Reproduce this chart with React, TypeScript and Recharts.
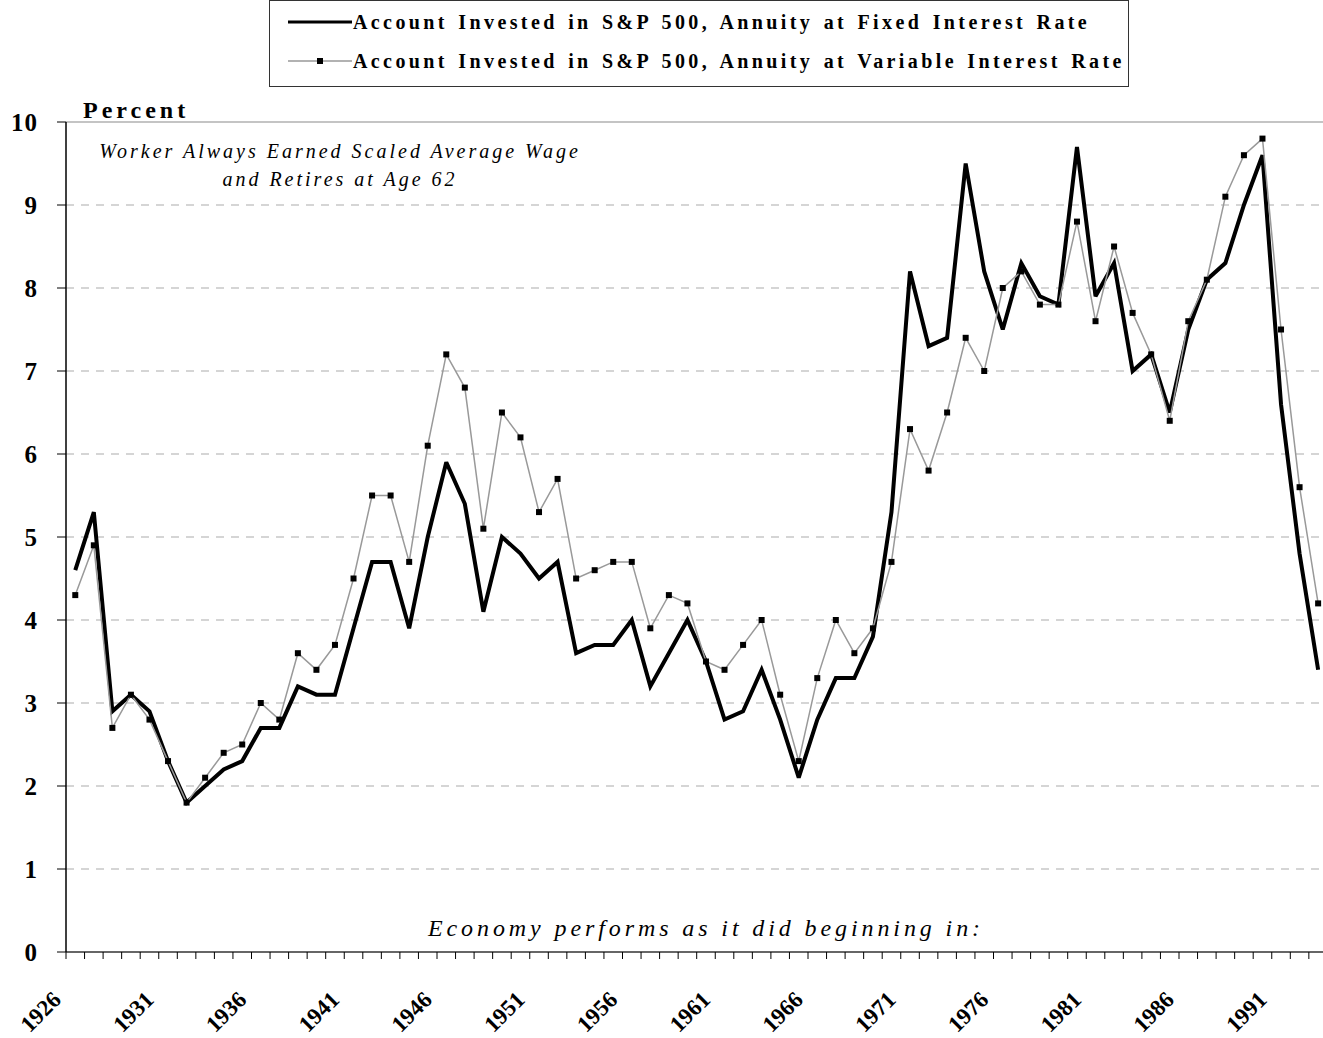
import React from 'react';
import {
  LineChart,
  Line,
  XAxis,
  YAxis,
  CartesianGrid,
  ReferenceLine,
  Legend,
} from 'recharts';

// Year the economy "begins" for each simulated worker
const years = [
  1926, 1927, 1928, 1929, 1930, 1931, 1932, 1933, 1934, 1935,
  1936, 1937, 1938, 1939, 1940, 1941, 1942, 1943, 1944, 1945,
  1946, 1947, 1948, 1949, 1950, 1951, 1952, 1953, 1954, 1955,
  1956, 1957, 1958, 1959, 1960, 1961, 1962, 1963, 1964, 1965,
  1966, 1967, 1968, 1969, 1970, 1971, 1972, 1973, 1974, 1975,
  1976, 1977, 1978, 1979, 1980, 1981, 1982, 1983, 1984, 1985,
  1986, 1987, 1988, 1989, 1990, 1991, 1992, 1993,
];

// Account invested in S&P 500, annuity at fixed interest rate (percent)
const fixedRate = [
  4.6, 5.3, 2.9, 3.1, 2.9, 2.3, 1.8, 2.0, 2.2, 2.3,
  2.7, 2.7, 3.2, 3.1, 3.1, 3.9, 4.7, 4.7, 3.9, 5.0,
  5.9, 5.4, 4.1, 5.0, 4.8, 4.5, 4.7, 3.6, 3.7, 3.7,
  4.0, 3.2, 3.6, 4.0, 3.5, 2.8, 2.9, 3.4, 2.8, 2.1,
  2.8, 3.3, 3.3, 3.8, 5.3, 8.2, 7.3, 7.4, 9.5, 8.2,
  7.5, 8.3, 7.9, 7.8, 9.7, 7.9, 8.3, 7.0, 7.2, 6.5,
  7.5, 8.1, 8.3, 9.0, 9.6, 6.6, 4.8, 3.4,
];

// Account invested in S&P 500, annuity at variable interest rate (percent)
const variableRate = [
  4.3, 4.9, 2.7, 3.1, 2.8, 2.3, 1.8, 2.1, 2.4, 2.5,
  3.0, 2.8, 3.6, 3.4, 3.7, 4.5, 5.5, 5.5, 4.7, 6.1,
  7.2, 6.8, 5.1, 6.5, 6.2, 5.3, 5.7, 4.5, 4.6, 4.7,
  4.7, 3.9, 4.3, 4.2, 3.5, 3.4, 3.7, 4.0, 3.1, 2.3,
  3.3, 4.0, 3.6, 3.9, 4.7, 6.3, 5.8, 6.5, 7.4, 7.0,
  8.0, 8.2, 7.8, 7.8, 8.8, 7.6, 8.5, 7.7, 7.2, 6.4,
  7.6, 8.1, 9.1, 9.6, 9.8, 7.5, 5.6, 4.2,
];

const yTicks = [0, 1, 2, 3, 4, 5, 6, 7, 8, 9, 10];

const seriesNames = [
  'Account Invested in S&P 500, Annuity at Fixed Interest Rate',
  'Account Invested in S&P 500, Annuity at Variable Interest Rate',
];

const data = years.map((year, i) => ({
  year,
  fixed: fixedRate[i],
  variable: variableRate[i],
}));

const FONT = '"Liberation Serif", "Times New Roman", Times, serif';

const CHART_W = 1340;
const CHART_H = 1038;
const Y_AXIS_W = 66;
const RIGHT_MARGIN = 12.6;
const BAND = (CHART_W - Y_AXIS_W - RIGHT_MARGIN) / years.length;

const YearTick = (props: any) => {
  const { x, y, payload, index } = props;
  const half = payload && typeof payload.offset === 'number' && payload.offset > 0 ? payload.offset : BAND / 2;
  const edge = x - half;
  const lx = x - 13;
  const ly = y + 42;
  return (
    <g>
      <line x1={edge} y1={y - 7} x2={edge} y2={y} stroke="#000" strokeWidth={1} />
      {index % 5 === 0 && (
        <text
          x={lx}
          y={ly}
          transform={`rotate(-45, ${lx}, ${ly})`}
          textAnchor="end"
          fontFamily={FONT}
          fontWeight="bold"
          fontSize={23}
          fill="#000"
        >
          {payload.value}
        </text>
      )}
    </g>
  );
};

const SquareDot = (props: any) => {
  const { cx, cy, index } = props;
  if (cx == null || cy == null) return <g key={index} />;
  return <rect key={index} x={cx - 3} y={cy - 3} width={6} height={6} fill="#000" />;
};

const LegendBox = () => (
  <div
    style={{
      position: 'relative',
      width: 860,
      height: 87,
      boxSizing: 'border-box',
      border: '1px solid #333',
      background: '#fff',
      fontFamily: FONT,
      fontWeight: 'bold',
      fontSize: 20,
      letterSpacing: 3.4,
      wordSpacing: 2,
      color: '#000',
    }}
  >
    {seriesNames.map((name, i) => (
      <div
        key={name}
        style={{
          position: 'absolute',
          left: 18,
          top: 10 + i * 39,
          height: 22,
          display: 'flex',
          alignItems: 'center',
          whiteSpace: 'nowrap',
        }}
      >
        <svg width={64} height={12} style={{ marginRight: 1 }}>
          {i === 0 ? (
            <line x1={0} y1={6} x2={64} y2={6} stroke="#000" strokeWidth={3} />
          ) : (
            <>
              <line x1={0} y1={6} x2={64} y2={6} stroke="#999" strokeWidth={1.5} />
              <rect x={29} y={3} width={6} height={6} fill="#000" />
            </>
          )}
        </svg>
        <span>{name}</span>
      </div>
    ))}
  </div>
);

const overlayText: React.CSSProperties = {
  position: 'absolute',
  fontFamily: FONT,
  whiteSpace: 'nowrap',
  lineHeight: 1,
  color: '#000',
};

export default function App() {
  return (
    <div
      style={{
        position: 'absolute',
        left: 0,
        top: 0,
        width: 1323,
        height: 1038,
        overflow: 'hidden',
        background: '#fff',
      }}
    >
      <LineChart
        width={CHART_W}
        height={CHART_H}
        data={data}
        margin={{ top: 122, right: RIGHT_MARGIN, left: 0, bottom: 0 }}
      >
        <CartesianGrid
          vertical={false}
          stroke="#c8c8c8"
          strokeWidth={1.5}
          strokeDasharray="8 7"
        />
        <ReferenceLine y={10} stroke="#c4c4c4" strokeWidth={2} />
        <XAxis
          dataKey="year"
          scale="band"
          height={86}
          interval={0}
          tickSize={7}
          tickMargin={0}
          tickLine={false}
          tick={<YearTick />}
          axisLine={{ stroke: '#666', strokeWidth: 2 }}
        />
        <YAxis
          width={Y_AXIS_W}
          domain={[0, 10]}
          ticks={yTicks}
          interval={0}
          tickSize={9}
          tickMargin={19}
          tickLine={{ stroke: '#000' }}
          axisLine={{ stroke: '#000', strokeWidth: 1.5 }}
          tick={{ fontFamily: FONT, fontWeight: 'bold', fontSize: 25, fill: '#000', letterSpacing: 1 }}
        />
        <Legend
          layout="horizontal"
          verticalAlign="middle"
          align="center"
          content={<LegendBox />}
          wrapperStyle={{ top: 0, left: 269, width: 'auto', height: 'auto' }}
        />
        <Line
          type="linear"
          dataKey="fixed"
          name={seriesNames[0]}
          stroke="#000"
          strokeWidth={4}
          strokeLinejoin="miter"
          strokeMiterlimit={3}
          dot={false}
          activeDot={false}
          isAnimationActive={false}
        />
        <Line
          type="linear"
          dataKey="variable"
          name={seriesNames[1]}
          stroke="#999"
          strokeWidth={1.5}
          dot={<SquareDot />}
          activeDot={false}
          isAnimationActive={false}
        />
      </LineChart>

      <div style={{ ...overlayText, left: 83, top: 98, fontSize: 24, fontWeight: 'bold', letterSpacing: 4 }}>
        Percent
      </div>
      <div
        style={{
          ...overlayText,
          left: 40,
          top: 137,
          width: 600,
          textAlign: 'center',
          fontSize: 20,
          fontStyle: 'italic',
          letterSpacing: 3,
          lineHeight: '28px',
        }}
      >
        Worker Always Earned Scaled Average Wage
        <br />
        and Retires at Age 62
      </div>
      <div style={{ ...overlayText, left: 428, top: 916, fontSize: 24, fontStyle: 'italic', letterSpacing: 3.9 }}>
        Economy performs as it did beginning in:
      </div>
    </div>
  );
}
